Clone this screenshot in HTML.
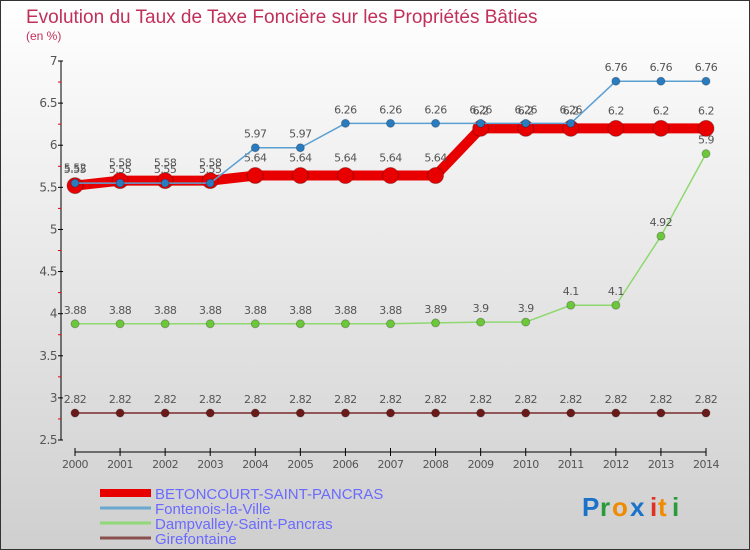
<!DOCTYPE html>
<html><head><meta charset="utf-8"><style>
body{margin:0;width:750px;height:550px;overflow:hidden}
svg{display:block;font-family:"DejaVu Sans","Liberation Sans",sans-serif}
</style></head><body>
<svg id="c" width="750" height="550">
<defs><linearGradient id="bg" x1="0" y1="0" x2="0" y2="1"><stop offset="0" stop-color="#ffffff"/><stop offset="1" stop-color="#cfcfcf"/></linearGradient></defs>
<rect x="0.5" y="0.5" width="749" height="549" fill="url(#bg)" stroke="#333"/>
<text x="26" y="23" font-size="19" fill="#c0305a" style="font-family:'Liberation Sans',sans-serif">Evolution du Taux de Taxe Foncière sur les Propriétés Bâties</text>
<text x="26" y="40" font-size="12" fill="#c0305a" style="font-family:'Liberation Sans',sans-serif">(en %)</text>
<g id="axes"></g><g id="series"></g><g id="legend"></g>
<g font-size="26" font-family="'Liberation Sans',sans-serif" font-weight="bold">
<text x="582" y="516" fill="#1a73c8">P</text><text x="600" y="516" fill="#2a9a3a">r</text><text x="612" y="516" fill="#f08a00">o</text><text x="630" y="516" fill="#1a73c8">x</text><text x="650" y="516" fill="#e03020">i</text><text x="658" y="516" fill="#f08a00">t</text><text x="672" y="516" fill="#2a9a3a">i</text>
</g>
</svg>
<script>
const years=[2000,2001,2002,2003,2004,2005,2006,2007,2008,2009,2010,2011,2012,2013,2014];
const yTicks=[2.5,3,3.5,4,4.5,5,5.5,6,6.5,7];
const betoncourt=[5.52,5.58,5.58,5.58,5.64,5.64,5.64,5.64,5.64,6.2,6.2,6.2,6.2,6.2,6.2];
const fontenois=[5.55,5.55,5.55,5.55,5.97,5.97,6.26,6.26,6.26,6.26,6.26,6.26,6.76,6.76,6.76];
const dampvalley=[3.88,3.88,3.88,3.88,3.88,3.88,3.88,3.88,3.89,3.9,3.9,4.1,4.1,4.92,5.9];
const girefontaine=[2.82,2.82,2.82,2.82,2.82,2.82,2.82,2.82,2.82,2.82,2.82,2.82,2.82,2.82,2.82];
const seriesNames=["BETONCOURT-SAINT-PANCRAS","Fontenois-la-Ville","Dampvalley-Saint-Pancras","Girefontaine"];
const NS="http://www.w3.org/2000/svg";
const X=i=>75+i*(706-75)/(years.length-1);
const Y=v=>61+(7-v)*(440-61)/4.5;
function mk(p,t,a){const e=document.createElementNS(NS,t);for(const k in a)e.setAttribute(k,a[k]);p.appendChild(e);return e;}
const ax=document.getElementById('axes');
mk(ax,'line',{x1:61,y1:Y(7),x2:61,y2:Y(2.5),stroke:'#000','stroke-width':1});
mk(ax,'line',{x1:75,y1:452,x2:706,y2:452,stroke:'#000','stroke-width':1});
yTicks.forEach(v=>{
 mk(ax,'line',{x1:58,y1:Y(v),x2:63,y2:Y(v),stroke:'#000'});
 if(v<7)mk(ax,'line',{x1:58,y1:Y(v+0.25),x2:61,y2:Y(v+0.25),stroke:'#e00'});
 const t=mk(ax,'text',{x:57,y:Y(v)+4,'font-size':12,fill:'#555','text-anchor':'end','letter-spacing':'-0.5'});t.textContent=v;
 
 
});
years.forEach((y,i)=>{
 mk(ax,'line',{x1:X(i),y1:448,x2:X(i),y2:456,stroke:'#000'});
 const t=mk(ax,'text',{x:X(i),y:468,'font-size':11,fill:'#555','text-anchor':'middle','letter-spacing':'-0.5'});t.textContent=y;
 
 
});
const sg=document.getElementById('series');
function draw(data,name,color,lw,r,pcol,labelDy){
 const g=mk(sg,'g',{});
 
 
 mk(g,'polyline',{points:data.map((v,i)=>X(i)+','+Y(v)).join(' '),fill:'none',stroke:color,'stroke-width':lw,'stroke-linejoin':'round'});
 data.forEach((v,i)=>{
  const c=mk(g,'circle',{cx:X(i),cy:Y(v),r:r,fill:pcol,stroke:'rgba(0,0,0,0.25)'});
  
  
  const t=mk(g,'text',{x:X(i),y:Y(v)-labelDy,'font-size':11,fill:'#555','text-anchor':'middle','letter-spacing':'-0.5'});t.textContent=v;
  
  
 });
}
draw(girefontaine,'series-girefontaine','#7a2a2a',1.5,4,'#6b1a1a',10);
draw(dampvalley,'series-dampvalley','#8fd870',1.5,4,'#6cc83a',10);
draw(betoncourt,'series-betoncourt','#e80000',10,8,'#e80000',14);
draw(fontenois,'series-fontenois','#5b9fd0',1.5,4,'#2a7cc0',10);
const lg=document.getElementById('legend');
const lc=['#e80000','#6aa8d0','#90d878','#8a5050'],lw=[8,3,3,3];
seriesNames.forEach((n,i)=>{
 const y=493+i*15;
 const g=mk(lg,'g',{});
 
 
 mk(g,'line',{x1:100,y1:y,x2:151,y2:y,stroke:lc[i],'stroke-width':lw[i]});
 const t=mk(g,'text',{x:155,y:y+6,'font-size':15,fill:'#6a6aff'});t.textContent=n;
 t.style.fontFamily="'Liberation Sans',sans-serif";
});
</script>
</body></html>
